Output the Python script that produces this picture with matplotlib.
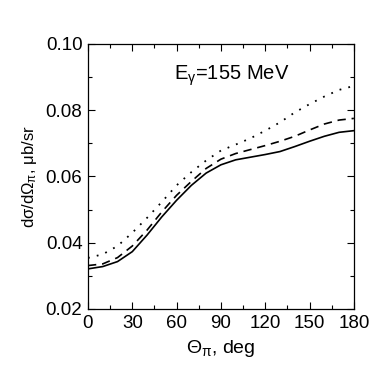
import matplotlib
matplotlib.use("Agg")
import matplotlib.pyplot as plt
from matplotlib.ticker import MultipleLocator

plt.rcParams['font.family'] = ['Liberation Sans', 'DejaVu Sans']
plt.rcParams['mathtext.fontset'] = 'custom'
plt.rcParams['mathtext.rm'] = 'Liberation Sans'
plt.rcParams['mathtext.it'] = 'Liberation Sans'

theta = [0, 10, 20, 30, 40, 50, 60, 70, 80, 90, 100, 110, 120, 130, 140, 150, 160, 170, 180]
solid = [0.0321, 0.0328, 0.0343, 0.0373, 0.0423, 0.0478, 0.0528, 0.0573, 0.0610, 0.0635,
         0.0650, 0.0658, 0.0666, 0.0675, 0.0690, 0.0706, 0.0721, 0.0733, 0.0738]
dashed = [0.0331, 0.0336, 0.0355, 0.0390, 0.0438, 0.0493, 0.0543, 0.0585, 0.0624, 0.0652,
          0.0669, 0.0681, 0.0693, 0.0706, 0.0721, 0.0740, 0.0758, 0.0770, 0.0775]
dotted = [0.0354, 0.0365, 0.0390, 0.0430, 0.0475, 0.0523, 0.0573, 0.0613, 0.0648, 0.0678,
          0.0696, 0.0715, 0.0738, 0.0763, 0.0793, 0.0818, 0.0841, 0.0861, 0.0873]
yticks = [0.02, 0.04, 0.06, 0.08, 0.10]
yticklabels = ['0.02', '0.04', '0.06', '0.08', '0.10']

fig = plt.figure(figsize=(3.91, 3.81), dpi=100)
ax = fig.add_axes([0.225, 0.189, 0.68, 0.696])

ax.plot(theta, solid, color='black', lw=1.2, ls='-')
ax.plot(theta, dashed, color='black', lw=1.2, ls=(0, (5, 3.5)))
ax.plot(theta, dotted, color='black', lw=1.3, ls=(0, (1, 4)))

ax.set_xlim(0, 180)
ax.set_ylim(0.02, 0.10)
ax.xaxis.set_major_locator(MultipleLocator(30))
ax.xaxis.set_minor_locator(MultipleLocator(15))
ax.set_yticks(yticks)
ax.set_yticklabels(yticklabels)
ax.yaxis.set_minor_locator(MultipleLocator(0.01))
ax.tick_params(which='both', direction='in', top=True, right=True, labelsize=13.5, width=0.8)
ax.tick_params(which='major', length=5)
ax.tick_params(axis='x', which='major', pad=4)
ax.tick_params(axis='y', which='major', pad=4)
ax.tick_params(which='minor', length=3)
for s in ax.spines.values():
    s.set_linewidth(0.9)

ax.set_xlabel(r'$\Theta_\mathrm{\pi}$, deg', fontsize=14, labelpad=5)
ax.set_ylabel(r'd$\sigma$/d$\Omega_\mathrm{\pi}$, $\mu$b/sr', fontsize=12, labelpad=5)
ax.text(0.54, 0.88, r'E$_\mathrm{\gamma}$=155 MeV', transform=ax.transAxes,
        fontsize=14.5, ha='center', va='center')

fig.savefig('out.png', dpi=100)
